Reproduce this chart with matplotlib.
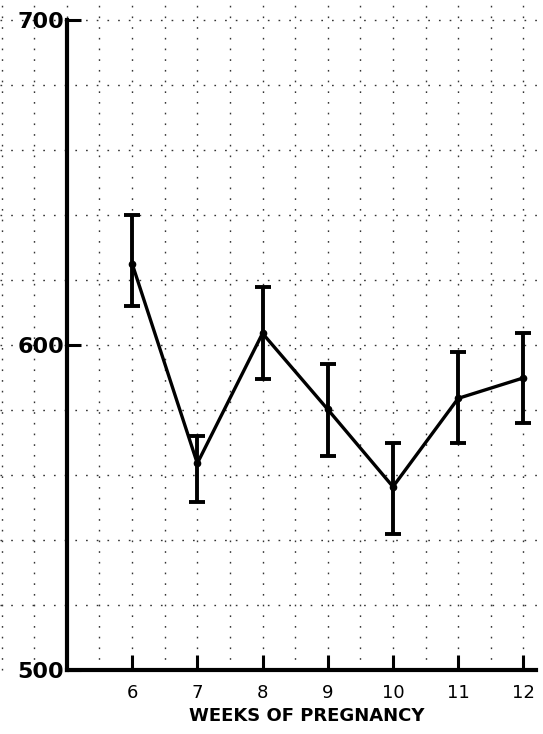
import matplotlib
matplotlib.use("Agg")
import matplotlib.pyplot as plt
import numpy as np

weeks = [6, 7, 8, 9, 10, 11, 12]
means = [625.1, 563.6, 603.6, 580.2, 556.4, 583.6, 589.9]
upper = [640.0, 572.0, 617.8, 594.2, 570.0, 597.9, 603.6]
lower = [612.0, 551.6, 589.5, 565.8, 542.0, 570.0, 575.9]
y_labels = ["500", "600", "700"]
y_label_vals = [500, 600, 700]
x_label = "WEEKS OF PREGNANCY"

fig = plt.figure(figsize=(5.43, 7.34), dpi=100)
ax = fig.add_axes([0, 0, 1, 1])
ax.set_xlim(3.975, 12.30)
ax.set_ylim(480.3, 706.2)

# dotted grid
grid_kw = dict(color="#333333", lw=1.0, linestyle=(0, (1.2, 6.5)), zorder=1)
for gy in np.arange(520, 701, 20):
    ax.plot([3.975, 12.3], [gy, gy], **grid_kw)
for gx in np.arange(4.0, 12.01, 0.5):
    ax.plot([gx, gx], [500, 706.2], **grid_kw)

# data with error bars
means_a = np.array(means)
yerr = [means_a - np.array(lower), np.array(upper) - means_a]
ax.errorbar(weeks, means, yerr=yerr, color="black", lw=2.4, elinewidth=2.8,
            capsize=6, capthick=2.8, marker="o", markersize=4.5, zorder=5)

# spines
for s in ["top", "right"]:
    ax.spines[s].set_visible(False)
ax.spines["left"].set_position(("data", 5))
ax.spines["bottom"].set_position(("data", 500))
ax.spines["left"].set_bounds(500, 700)
ax.spines["bottom"].set_bounds(5, 12.2)
ax.spines["left"].set_linewidth(3)
ax.spines["bottom"].set_linewidth(3)

ax.set_xticks(weeks)
ax.set_xticklabels([str(w) for w in weeks], fontsize=13)
ax.set_yticks(y_label_vals)
ax.set_yticklabels(y_labels, fontsize=16, fontweight="bold")
ax.tick_params(axis="x", direction="in", length=11, width=2.2, pad=10)
ax.tick_params(axis="y", direction="in", length=10, width=2.2, pad=2)

ax.text(8.68, 485.9, x_label, ha="center", va="center", fontsize=13,
        fontweight="bold")

fig.savefig("out.png", dpi=100)
